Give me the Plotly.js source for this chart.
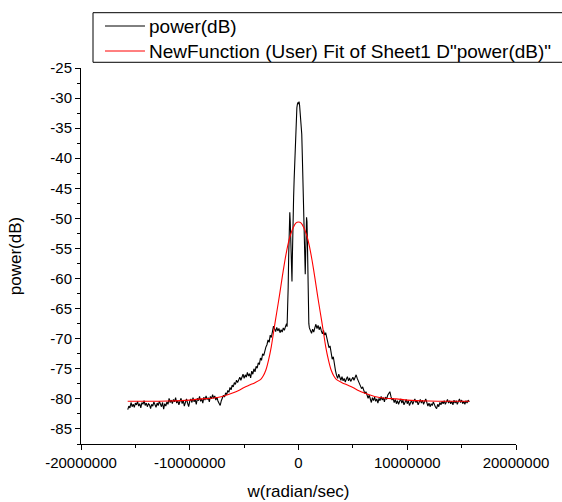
<!DOCTYPE html>
<html>
<head>
<meta charset="utf-8">
<script src="https://cdn.plot.ly/plotly-3.0.1.min.js"></script>
<style>html,body{margin:0;padding:0;background:#fff;}#chart{width:562px;height:502px;}</style>
</head>
<body>
<div id="chart"></div>
<script>
// ---- data (x in units of 1e6 rad/s) ----
var SCALE = 1e6;
var tailStep = 0.1;           // sample spacing of the measured tails
var leftTailStart = -15.7;
var rightTailStart = 1.1;

var leftTailY = [
 -81.8,-81.2,-81.5,-80.6,-81.3,-80.9,-81.4,-80.7,-81.0,-80.4,
 -81.2,-80.8,-81.5,-80.6,-80.9,-80.3,-81.1,-80.7,-81.3,-80.8,
 -81.0,-81.6,-80.9,-81.2,-80.5,-81.0,-81.4,-80.7,-81.1,-80.4,
 -80.9,-81.3,-80.6,-81.7,-80.8,-81.2,-80.5,-80.9,
 -79.9,-80.6,-80.2,-80.8,-80.1,-80.5,-79.8,-80.7,-80.3,-81.0,
 -80.4,-79.9,-80.8,-80.2,-81.2,-80.5,-80.0,-80.7,-81.3,-80.4,
 -80.0,-80.6,-79.8,-80.5,-80.1,-80.9,-79.9,-80.3,-79.6,-80.4,
 -80.0,-80.7,-79.7,-80.2,-79.5,-80.1,-79.8,-80.5,-79.6,-80.0,
 -79.3,-79.9,-79.5,-80.2,-79.7,-80.4,-80.9,-81.1,-80.3,-79.8,
 -79.4,-79.7,-79.0,-79.3,-78.6,-78.9,-78.1,-78.5,-77.7,-78.0,
 -77.3,-77.6,-76.9,-77.3,-76.7,-76.4,-76.9,-76.2,-75.9,-76.6,
 -76.0,-76.4,-75.6,-76.2,-75.8,-76.5,-75.4,-75.9,-75.0,-75.5,
 -74.6,-74.9,-74.0,-74.3,-73.2,-73.6,-72.5,-72.8,-71.9,-71.4,
 -71.0,-70.2,-70.6,-69.4,-69.8,-68.6,-67.9,-68.4,-68.8,-68.1,
 -68.7,-68.3,-69.0,-68.5,-68.9,-68.2,-68.6,-68.0,-67.5
];

var centerX = [-1.05,-1.0,-0.95,-0.9,-0.85,-0.8,-0.76,-0.72,-0.68,-0.64,-0.6,-0.57,-0.54,-0.5,-0.45,-0.4,-0.35,-0.3,-0.25,-0.2,-0.15,-0.1,-0.05,-0.02,0.02,0.05,0.1,0.15,0.2,0.25,0.3,0.35,0.4,0.44,0.47,0.5,0.54,0.58,0.62,0.66,0.7,0.74,0.78,0.82,0.86,0.9,0.95,1.0];
var centerY = [-68.0,-66.0,-61.5,-56.0,-51.5,-49.0,-50.5,-54.0,-57.5,-60.0,-60.5,-57.0,-52.5,-50.0,-46.5,-43.5,-40.5,-38.0,-35.3,-33.0,-31.6,-31.0,-30.7,-31.0,-30.8,-30.6,-31.2,-32.3,-33.6,-34.0,-36.0,-39.5,-43.5,-47.0,-51.5,-51.0,-55.0,-58.5,-59.3,-56.0,-52.0,-49.8,-50.5,-54.0,-59.5,-64.0,-67.5,-68.2];

var rightTailY = [
 -68.6,-69.1,-68.4,-68.9,-68.2,-67.6,-68.3,-67.8,-68.5,-68.0,
 -68.7,-69.2,-68.6,-69.4,-69.0,-69.8,-70.6,-71.5,-71.2,-72.6,
 -73.4,-73.0,-74.5,-75.3,-76.1,-76.6,-75.9,-76.5,-76.9,-76.3,
 -77.0,-76.6,-77.2,-76.7,-76.3,-77.0,-76.5,-77.1,-76.8,-76.4,
 -76.9,-76.3,-76.0,-76.6,-77.0,-77.4,-77.9,-78.3,-78.0,-78.7,
 -79.1,-78.8,-79.5,-79.9,-79.4,-80.1,-80.6,-79.8,-80.3,-79.7,
 -80.4,-80.0,-80.7,-79.9,-80.3,-79.6,-80.2,-79.8,-80.5,-79.7,
 -80.1,-79.4,-79.0,-78.8,-79.6,-80.2,-79.9,-80.6,-80.1,-80.8,
 -80.3,-80.9,-80.4,-80.0,-80.7,-80.2,-81.0,-80.5,-80.1,-80.8,
 -80.3,-81.1,-80.6,-80.2,-80.9,-80.4,-80.0,-80.6,-80.3,-81.0,
 -80.5,-80.1,-80.7,-80.2,-80.9,-80.4,-80.0,-80.6,-81.2,-80.7,
 -81.3,-80.8,-81.1,-80.5,-81.0,-81.4,-81.6,-80.9,-81.3,-80.6,
 -81.0,-80.4,-80.8,-80.3,-80.9,-80.5,-80.1,-80.7,-80.3,-80.8,
 -80.4,-81.0,-80.2,-80.7,-80.3,-80.9,-80.5,-80.0,-80.6,-80.2,
 -80.8,-80.4,-80.9,-80.3,-80.7,-80.2,-80.5
];

var fitX = [-15.708,-14,-12,-10,-9,-8,-7,-6,-5.5,-5,-4.5,-4,-3.5,-3.25,-3,-2.75,-2.5,-2.25,-2,-1.75,-1.5,-1.25,-1,-0.75,-0.5,-0.25,0,
            0.25,0.5,0.75,1,1.25,1.5,1.75,2,2.25,2.5,2.75,3,3.25,3.5,4,4.5,5,5.5,6,7,8,9,10,12,14,15.708];
var fitY = [-80.4,-80.4,-80.35,-80.2,-80.0,-79.9,-79.6,-79.0,-78.6,-78.1,-77.7,-77.3,-76.8,-76.2,-75.2,-73.5,-71.3,-68.4,-65.6,-62.8,-59.8,-57.0,-54.6,-52.8,-51.6,-50.8,-50.6,
            -50.8,-51.6,-52.8,-54.6,-57.0,-59.8,-62.8,-65.6,-68.4,-71.3,-73.5,-75.2,-76.2,-76.8,-77.3,-77.7,-78.1,-78.6,-79.0,-79.6,-79.9,-80.0,-80.2,-80.35,-80.4,-80.4];

var seriesNames = ['power(dB)', 'NewFunction (User) Fit of Sheet1 D"power(dB)"'];
var seriesColors = ['#000000', '#ff0000'];

var xTickVals = [-20000000,-10000000,0,10000000,20000000];
var xTickText = ['-20000000','-10000000','0','10000000','20000000'];
var yTickVals = [-85,-80,-75,-70,-65,-60,-55,-50,-45,-40,-35,-30,-25];
var yTickText = ['-85','-80','-75','-70','-65','-60','-55','-50','-45','-40','-35','-30','-25'];

// ---- assemble measured series ----
var bx = [], by = [];
leftTailY.forEach(function(v,i){ bx.push((leftTailStart + i*tailStep)*SCALE); by.push(v); });
centerX.forEach(function(v,i){ bx.push(v*SCALE); by.push(centerY[i]); });
rightTailY.forEach(function(v,i){ bx.push((rightTailStart + i*tailStep)*SCALE); by.push(v); });
var fx = fitX.map(function(v){ return v*SCALE; });

var FONT = 'Arial, "Liberation Sans", sans-serif';

var traces = [
  {x: bx, y: by, type:'scatter', mode:'lines', name:seriesNames[0],
   line:{color:seriesColors[0], width:1.1}},
  {x: fx, y: fitY, type:'scatter', mode:'lines', name:seriesNames[1],
   line:{color:seriesColors[1], width:1.1, shape:'spline', smoothing:0.8}}
];

// legend box drawn in paper coordinates (extends past the right edge like the original)
var legRowY = [1.1117, 1.0452];
var shapes = [
  {type:'rect', xref:'paper', yref:'paper', x0:0.0276, x1:1.13, y0:1.0152, y1:1.1471,
   line:{color:'#000', width:1}, fillcolor:'rgba(0,0,0,0)'}
];
var annotations = [];
seriesNames.forEach(function(n, i){
  shapes.push({type:'line', xref:'paper', yref:'paper', x0:0.0552, x1:0.1471,
               y0:legRowY[i], y1:legRowY[i], line:{color:seriesColors[i], width:1}});
  annotations.push({xref:'paper', yref:'paper', x:0.1526, y:legRowY[i], xanchor:'left', yanchor:'middle',
                    text:n, showarrow:false, font:{family:FONT, size:19, color:'#000'}});
});

var layout = {
  width:562, height:502,
  margin:{l:81, r:46, t:68, b:58, autoexpand:false},
  paper_bgcolor:'#fff', plot_bgcolor:'#fff',
  font:{family:FONT, size:15, color:'#000'},
  showlegend:false,
  shapes:shapes,
  annotations:annotations,
  xaxis:{range:[-20000000,20000000], showline:true, linecolor:'#000', linewidth:1,
         ticks:'outside', ticklen:5, tickcolor:'#000', tickwidth:1,
         tickvals:xTickVals, ticktext:xTickText, tickangle:0, automargin:false,
         minor:{ticks:'outside', ticklen:3, tickcolor:'#000', dtick:5000000, showgrid:false},
         showgrid:false, zeroline:false, mirror:false,
         tickfont:{family:FONT, size:15, color:'#000'},
         title:{text:'w(radian/sec)', font:{family:FONT, size:17, color:'#000'}, standoff:15}},
  yaxis:{range:[-87.5,-25], showline:true, linecolor:'#000', linewidth:1,
         ticks:'outside', ticklen:5, tickcolor:'#000', tickwidth:1,
         tickvals:yTickVals, ticktext:yTickText, automargin:false,
         minor:{ticks:'outside', ticklen:3, tickcolor:'#000', dtick:2.5, showgrid:false},
         showgrid:false, zeroline:false, mirror:false,
         tickfont:{family:FONT, size:15, color:'#000'},
         title:{text:'power(dB)', font:{family:FONT, size:17, color:'#000'}, standoff:24}}
};

Plotly.newPlot('chart', traces, layout, {displayModeBar:false, staticPlot:true});
</script>
</body>
</html>
